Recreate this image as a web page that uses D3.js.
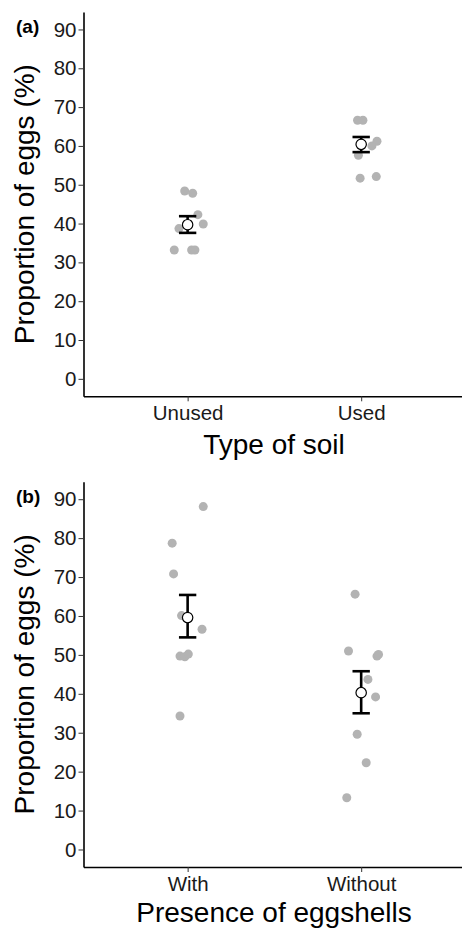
<!DOCTYPE html>
<html>
<head>
<meta charset="utf-8">
<script src="https://cdn.jsdelivr.net/npm/d3@7"></script>
<style>
  html, body { margin: 0; padding: 0; background: #fff; }
  svg { display: block; }
  text { font-family: "Liberation Sans", Arial, sans-serif; }
</style>
</head>
<body>
<script>
// ---------- data ----------
const yTicks = [0, 10, 20, 30, 40, 50, 60, 70, 80, 90];

const soilCategories = ["Unused", "Used"];
const soilUnusedValues = [48.4, 47.8, 42.3, 39.9, 38.7, 33.2, 33.2, 33.2];
const soilUnusedJitter = [-0.017, 0.029, 0.059, 0.090, -0.050, -0.077, 0.023, 0.042];
const soilUsedValues = [66.6, 66.6, 61.2, 60.0, 57.6, 51.7, 52.1];
const soilUsedJitter = [-0.021, 0.010, 0.091, 0.062, -0.016, -0.006, 0.087];
const soilMeans = [39.7, 60.4];
const soilLower = [37.6, 58.4];
const soilUpper = [41.9, 62.3];

const shellCategories = ["With", "Without"];
const shellWithValues = [88.1, 78.7, 70.8, 60.1, 56.6, 49.7, 49.5, 50.2, 34.3];
const shellWithJitter = [0.090, -0.089, -0.081, -0.035, 0.083, -0.044, -0.016, 0.004, -0.044];
const shellWithoutValues = [65.6, 51.0, 49.7, 50.1, 43.7, 39.2, 29.6, 22.3, 13.3];
const shellWithoutJitter = [-0.035, -0.073, 0.091, 0.100, 0.039, 0.083, -0.023, 0.029, -0.083];
const shellMeans = [59.6, 40.3];
const shellLower = [54.5, 35.0];
const shellUpper = [65.4, 45.8];

// ---------- drawing ----------
const W = 462, H = 929;
const svg = d3.select("body").append("svg").attr("width", W).attr("height", H);

function panel(opts) {
  const g = svg.append("g");
  const x = d3.scaleLinear().domain([0.4, 2.6]).range([83.5, 465.3]);
  const y = d3.scaleLinear().domain([-4.5, 94.5]).range([opts.bottom, opts.top]);

  // points
  const pts = [];
  opts.groups.forEach((grp, i) => {
    grp.values.forEach((v, j) => pts.push({ cx: i + 1 + grp.jitter[j], v }));
  });
  g.selectAll("circle.pt").data(pts).enter().append("circle")
    .attr("class", "pt")
    .attr("cx", d => x(d.cx)).attr("cy", d => y(d.v))
    .attr("r", 4.5).attr("fill", "#b3b3b3");

  // error bars
  const eb = opts.means.map((m, i) => ({ i: i + 1, m, lo: opts.lower[i], hi: opts.upper[i] }));
  const ebg = g.selectAll("g.eb").data(eb).enter().append("g").attr("class", "eb");
  ebg.append("line").attr("x1", d => x(d.i)).attr("x2", d => x(d.i))
    .attr("y1", d => y(d.lo)).attr("y2", d => y(d.hi))
    .attr("stroke", "#000").attr("stroke-width", 2.6);
  ebg.append("line").attr("x1", d => x(d.i - 0.05)).attr("x2", d => x(d.i + 0.05))
    .attr("y1", d => y(d.lo)).attr("y2", d => y(d.lo))
    .attr("stroke", "#000").attr("stroke-width", 2.6);
  ebg.append("line").attr("x1", d => x(d.i - 0.05)).attr("x2", d => x(d.i + 0.05))
    .attr("y1", d => y(d.hi)).attr("y2", d => y(d.hi))
    .attr("stroke", "#000").attr("stroke-width", 2.6);
  ebg.append("circle").attr("cx", d => x(d.i)).attr("cy", d => y(d.m))
    .attr("r", 5.2).attr("fill", "#fff").attr("stroke", "#000").attr("stroke-width", 1.2);

  // axes
  const yAxis = d3.axisLeft(y).tickValues(yTicks).tickSize(5).tickSizeOuter(0).tickPadding(2);
  const ya = g.append("g").attr("transform", `translate(${x(0.4)},0)`).call(yAxis);
  ya.selectAll("text").attr("font-size", 20.5).attr("fill", "#1a1a1a")
    .attr("font-family", "Liberation Sans, Arial, sans-serif");
  ya.selectAll("line").attr("stroke", "#333").attr("stroke-width", 1);
  ya.select(".domain").attr("stroke", "#000").attr("stroke-width", 1.6);

  const xAxis = d3.axisBottom(x).tickValues([1, 2]).tickFormat(d => opts.categories[d - 1])
    .tickSize(5).tickSizeOuter(0).tickPadding(4);
  const xa = g.append("g").attr("transform", `translate(0,${opts.bottom})`).call(xAxis);
  xa.selectAll("text").attr("font-size", 20.5).attr("fill", "#1a1a1a")
    .attr("font-family", "Liberation Sans, Arial, sans-serif");
  xa.selectAll("line").attr("stroke", "#333").attr("stroke-width", 1);
  xa.select(".domain").attr("stroke", "#000").attr("stroke-width", 1.6);

  // titles
  g.append("text").attr("x", 274).attr("y", opts.bottom + opts.titleOffset)
    .attr("text-anchor", "middle").attr("font-size", 28).attr("fill", "#000")
    .text(opts.xTitle);
  const cy = (opts.top + opts.bottom) / 2;
  g.append("text").attr("transform", `translate(33.5,${cy}) rotate(-90)`)
    .attr("text-anchor", "middle").attr("font-size", 28).attr("fill", "#000")
    .text("Proportion of eggs (%)");
  g.append("text").attr("x", 16).attr("y", opts.top + 21)
    .attr("font-size", 19).attr("font-weight", "bold").attr("fill", "#000")
    .text(opts.tag);
}

panel({
  top: 12, bottom: 396.3, tag: "(a)", xTitle: "Type of soil", titleOffset: 58,
  categories: soilCategories,
  groups: [{ values: soilUnusedValues, jitter: soilUnusedJitter },
           { values: soilUsedValues, jitter: soilUsedJitter }],
  means: soilMeans, lower: soilLower, upper: soilUpper
});

panel({
  top: 481.7, bottom: 867, tag: "(b)", xTitle: "Presence of eggshells", titleOffset: 55,
  categories: shellCategories,
  groups: [{ values: shellWithValues, jitter: shellWithJitter },
           { values: shellWithoutValues, jitter: shellWithoutJitter }],
  means: shellMeans, lower: shellLower, upper: shellUpper
});
</script>
</body>
</html>
